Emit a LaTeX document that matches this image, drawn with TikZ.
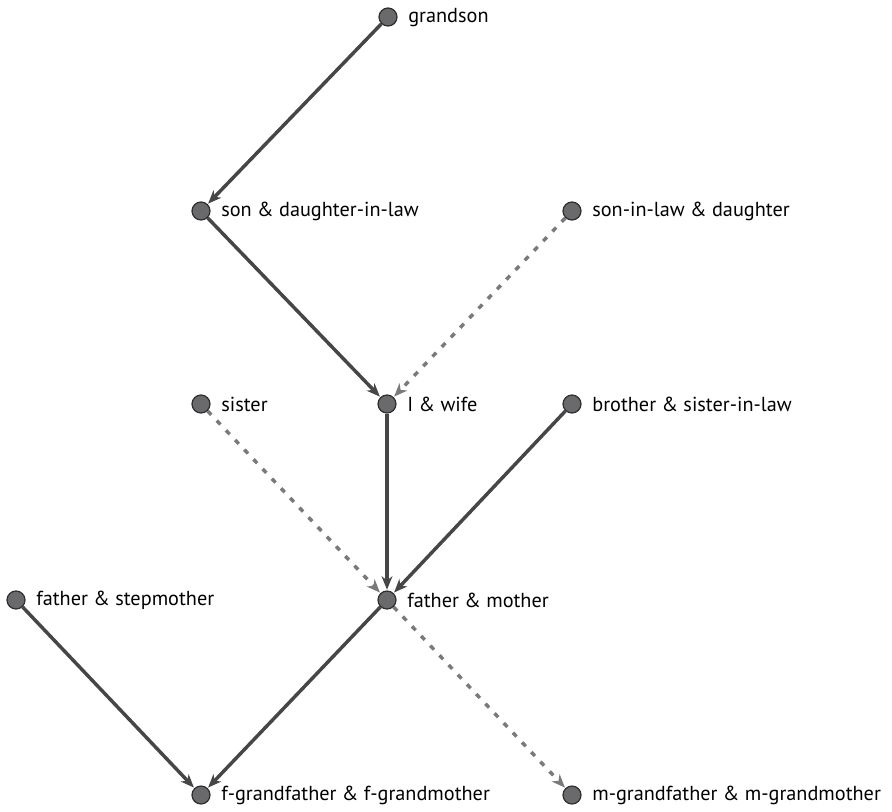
\documentclass[tikz,border=0pt]{standalone}
\usepackage{fontspec}
\setmainfont{PT Sans}
\usetikzlibrary{arrows.meta}
\definecolor{dotfill}{HTML}{6A6A6D}
\definecolor{dotline}{HTML}{2E2E30}
\definecolor{solidc}{HTML}{464648}
\definecolor{dashc}{HTML}{7A7A7C}
\begin{document}
\begin{tikzpicture}[x=0.75pt,y=-0.75pt,
  pt/.style={circle,fill=dotfill,draw=dotline,line width=0.9pt,minimum size=13.5pt,inner sep=0pt,
    label={[font=\fontsize{15.2}{18}\selectfont,anchor=west,xshift=4.5pt,yshift=-0.5pt]east:#1}},
  rel/.style={draw=solidc,line width=2.6pt,-{Stealth[length=10pt,width=8pt,inset=3pt]},shorten >=0.5pt},
  drel/.style={draw=dashc,line width=2.6pt,dash pattern=on 4pt off 6pt,-{Stealth[length=10pt,width=8pt,inset=3pt]},shorten >=0.5pt}]
\useasboundingbox (0,0) rectangle (892,811);
\node[pt=grandson] (gs) at (388,17) {};
\node[pt={son \& daughter-in-law}] (sd) at (201,211) {};
\node[pt={son-in-law \& daughter}] (sld) at (572,211) {};
\node[pt=sister] (sis) at (201,404) {};
\node[pt={I \& wife}] (me) at (387,404) {};
\node[pt={brother \& sister-in-law}] (bro) at (572,404) {};
\node[pt={father \& stepmother}] (fs) at (16,600) {};
\node[pt={father \& mother}] (fm) at (387,600) {};
\node[pt={f-grandfather \& f-grandmother}] (fg) at (201,795) {};
\node[pt={m-grandfather \& m-grandmother}] (mg) at (572,795) {};
\draw[rel] (gs) -- (sd);
\draw[rel] (sd) -- (me);
\draw[drel] (sld) -- (me);
\draw[drel] (sis) -- (fm);
\draw[rel] (me) -- (fm);
\draw[rel] (bro) -- (fm);
\draw[rel] (fm) -- (fg);
\draw[rel] (fs) -- (fg);
\draw[drel] (fm) -- (mg);
\end{tikzpicture}
\end{document}
